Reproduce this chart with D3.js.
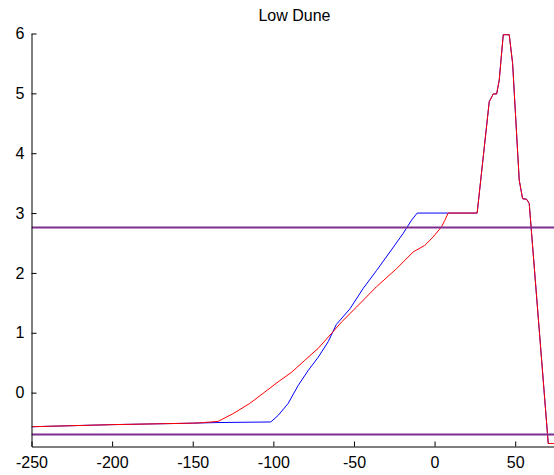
<!DOCTYPE html>
<html>
<head>
<meta charset="utf-8">
<script src="https://cdn.jsdelivr.net/npm/d3@7"></script>
<style>
  html, body { margin: 0; padding: 0; background: #fff; }
  svg { display: block; }
  text { font-family: "Liberation Sans", Arial, sans-serif; fill: #000; }
</style>
</head>
<body>
<div id="chart"></div>
<script>
// ---- data ----
const title = "Low Dune";
const xTicks = [-250, -200, -150, -100, -50, 0, 50];
const yTicks = [0, 1, 2, 3, 4, 5, 6];

// pre-dune profile (blue)
const blueX = [-250, -200, -150, -135, -101.6, -97, -90.8, -84.6, -78.4, -72.2, -66.0, -60.9, -52.5, -44.3, -36, -27.7, -19.5, -14.3, -10.8, 8.4];
const blueY = [-0.57, -0.535, -0.51, -0.5, -0.49, -0.38, -0.18, 0.12, 0.37, 0.59, 0.85, 1.14, 1.40, 1.74, 2.04, 2.35, 2.66, 2.88, 3.0, 3.0];

// profile (red)
const redX = [-250, -200, -150, -145.5, -134.2, -124.9, -114.6, -105.3, -97, -88.7, -80.5, -72.2, -63.9, -57.7, -48.4, -36, -23.6, -13.3, -6.1, -0.9, 4.3, 6.4, 8.4];
const redY = [-0.57, -0.535, -0.51, -0.505, -0.48, -0.35, -0.18, 0.01, 0.18, 0.34, 0.54, 0.74, 0.99, 1.18, 1.43, 1.77, 2.07, 2.35, 2.46, 2.60, 2.77, 2.88, 3.0];

// shared dune part (both series)
const duneX = [26.4, 33.9, 36.4, 38.5, 40.1, 42.6, 46.3, 48.4, 52.5, 54.6, 57.1, 58.7, 70.5, 75];
const duneY = [3.0, 4.86, 4.99, 4.99, 5.22, 5.98, 5.98, 5.50, 3.55, 3.24, 3.23, 3.16, -0.85, -0.85];

// horizontal reference levels
const levels = [2.76, -0.70];

// ---- layout ----
const W = 554, H = 475;
const x = d3.scaleLinear().domain([-250, 75]).range([31.5, 555.5]);
const y = d3.scaleLinear().domain([-0.9, 6]).range([446.5, 33.5]);

const svg = d3.select("#chart").append("svg").attr("width", W).attr("height", H);

svg.append("defs").append("clipPath").attr("id", "clip")
  .append("rect").attr("x", 31.5).attr("y", 33).attr("width", 525).attr("height", 414);

const toPts = (xs, ys) => xs.map((v, i) => [v, ys[i]]);
const blue = toPts(blueX.concat(duneX), blueY.concat(duneY));
const red = toPts(redX.concat(duneX), redY.concat(duneY));

const line = d3.line().x(d => x(d[0])).y(d => y(d[1]));
const g = svg.append("g").attr("clip-path", "url(#clip)");

g.append("path").datum(blue).attr("d", line)
  .attr("fill", "none").attr("stroke", "#0000ff").attr("stroke-width", 1);
g.append("path").datum(red).attr("d", line)
  .attr("fill", "none").attr("stroke", "#ff0000").attr("stroke-width", 1);

g.selectAll("line.level").data(levels).enter().append("line")
  .attr("class", "level")
  .attr("x1", x(-250)).attr("x2", W + 5)
  .attr("y1", d => y(d)).attr("y2", d => y(d))
  .attr("stroke", "#7e2f8e").attr("stroke-width", 2);

// axes
const fmt = d => String(d);
const xAxis = d3.axisBottom(x).tickValues(xTicks).tickFormat(fmt).tickSizeInner(-5).tickSizeOuter(0).tickPadding(10);
const yAxis = d3.axisLeft(y).tickValues(yTicks).tickFormat(fmt).tickSizeInner(-5).tickSizeOuter(0).tickPadding(7);

const gx = svg.append("g").attr("transform", `translate(0,${y(-0.9)})`).call(xAxis);
const gy = svg.append("g").attr("transform", `translate(${x(-250)},0)`).call(yAxis);

[gx, gy].forEach(a => {
  a.selectAll("text").style("font-family", '"Liberation Sans", Arial, sans-serif').style("font-size", "16px").attr("fill", "#000");
  a.selectAll("line").attr("stroke", "#000");
  a.select(".domain").attr("stroke", "#000");
});

svg.append("text").attr("x", 294.5).attr("y", 20.5)
  .attr("text-anchor", "middle").style("font-size", "16px").text(title);
</script>
</body>
</html>
